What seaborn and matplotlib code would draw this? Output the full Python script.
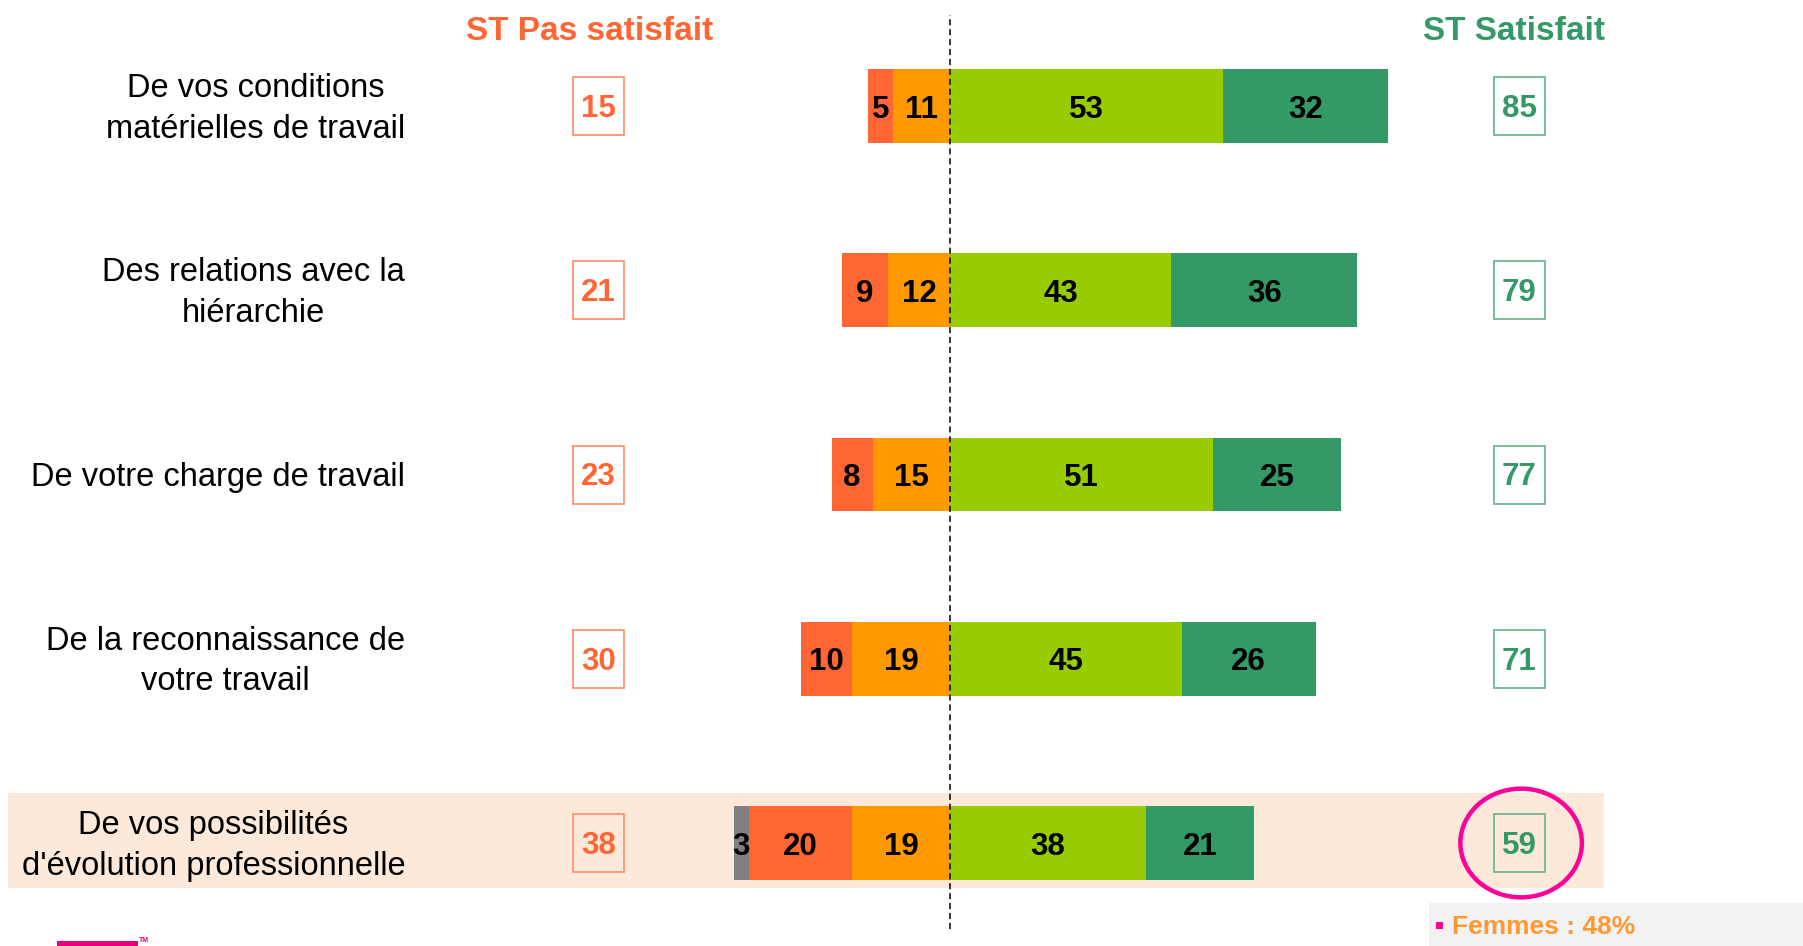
import matplotlib
matplotlib.use('Agg')
import matplotlib.pyplot as plt
import seaborn as sns
import numpy as np
from matplotlib.patches import Rectangle, Ellipse

# ── Données ───────────────────────────────────────────────
categories = [
    "De vos conditions\nmatérielles de travail",
    "Des relations avec la\nhiérarchie",
    "De votre charge de travail",
    "De la reconnaissance de\nvotre travail",
    "De vos possibilités\nd'évolution professionnelle",
]
nsp = [0, 0, 0, 0, 3]                 # gris
pas_du_tout = [5, 9, 8, 10, 20]       # rouge
plutot_pas = [11, 12, 15, 19, 19]     # orange
plutot = [53, 43, 51, 45, 38]         # vert clair
tres = [32, 36, 25, 26, 21]           # vert foncé
st_pas_satisfait = [15, 21, 23, 30, 38]
st_satisfait = [85, 79, 77, 71, 59]

C_GRIS = "#808080"
C_ROUGE = "#FF6633"
C_ORANGE = "#FF9900"
C_VERT_CLAIR = "#99CC00"
C_VERT = "#339966"

sns.set_theme(style="white")
plt.rcParams['font.family'] = ['Liberation Sans', 'DejaVu Sans']

fig = plt.figure(figsize=(18.03, 9.46), dpi=100)
ax = fig.add_axes([0, 0, 1, 1])

nsp_a = np.array(nsp)
r = np.array(pas_du_tout)
o = np.array(plutot_pas)
vc = np.array(plutot)
v = np.array(tres)

# bande de mise en avant (dernière ligne)
ax.axhspan(4 - 0.271, 4 + 0.244, xmin=8 / 1803, xmax=1604 / 1803,
           color="#FDE9D9", zorder=0, lw=0)

# barres empilées (superposition des cumuls)
couches = [
    (vc + v, C_VERT),
    (vc, C_VERT_CLAIR),
    (-(nsp_a + r + o), C_GRIS),
    (-(r + o), C_ROUGE),
    (-o, C_ORANGE),
]
for vals, col in couches:
    sns.barplot(x=vals, y=categories, order=categories, orient='h',
                color=col, saturation=1, width=0.4, linewidth=0, ax=ax)

# étiquettes des segments
for i in range(len(categories)):
    segs = [
        (-(nsp_a[i] + r[i] + o[i]), nsp_a[i]),
        (-(r[i] + o[i]), r[i]),
        (-o[i], o[i]),
        (0, vc[i]),
        (vc[i], v[i]),
    ]
    for start, w in segs:
        if w > 0:
            ax.text(start + w / 2, i + 0.02, str(w), ha='center', va='center',
                    fontsize=22.5, fontweight='bold', color='black', zorder=5)
    ax.text(-105.8, i + 0.015, categories[i], ha='right', va='center',
            multialignment='center', fontsize=23.5, color='black',
            linespacing=1.4)
    # cases ST
    for xc, val, col, ec in [(-68.3, st_pas_satisfait[i], C_ROUGE, "#FF9470"),
                              (110.5, st_satisfait[i], C_VERT, "#70B894")]:
        ax.add_patch(Rectangle((xc - 4.95, i - 0.157), 9.9, 0.315,
                               fill=False, ec=ec, lw=1.3, zorder=4))
        ax.text(xc, i + 0.015, str(val), ha='center', va='center',
                fontsize=22.5, fontweight='bold', color=col, zorder=5)

# en-têtes
ax.text(-70, -0.405, "ST Pas satisfait", ha='center', va='center',
        fontsize=24, fontweight='bold', color=C_ROUGE)
ax.text(109.5, -0.405, "ST Satisfait", ha='center', va='center',
        fontsize=24, fontweight='bold', color=C_VERT)

# ligne centrale
ax.axvline(0, ymin=0.018, ymax=0.984, color='black', lw=1.1,
           dashes=(4, 2.5), zorder=6)

# cercle magenta
ax.add_patch(Ellipse((110.9, 4.0), 23.6, 0.59, fill=False,
                     ec="#FF0099", lw=3.2, zorder=6))

ax.set_xlim(-950 / 5.15, 853 / 5.15)
ax.set_ylim((946 - 106) / 184.25, -106 / 184.25)
ax.axis('off')

# encart "Femmes"
fig.add_artist(Rectangle((1429 / 1803, 0), 374 / 1803, 43 / 946,
                         transform=fig.transFigure, color="#F2F2F2", lw=0))
fig.add_artist(Rectangle((1436 / 1803, 17 / 946), 7 / 1803, 7 / 946,
                         transform=fig.transFigure, color="#FF0099", lw=0))
fig.text(1452 / 1803, 19 / 946, "Femmes : 48%", ha='left', va='center',
         fontsize=19, fontweight='bold', color="#FF9933")

# logo (bas gauche)
fig.add_artist(Rectangle((57 / 1803, 0), 81 / 1803, 5 / 946,
                         transform=fig.transFigure, color="#E6007E", lw=0))
fig.text(139 / 1803, 2 / 946, "TM", fontsize=5, fontweight='bold',
         color="#E6007E", va='bottom')

plt.savefig("out.png", dpi=100)
plt.close()
